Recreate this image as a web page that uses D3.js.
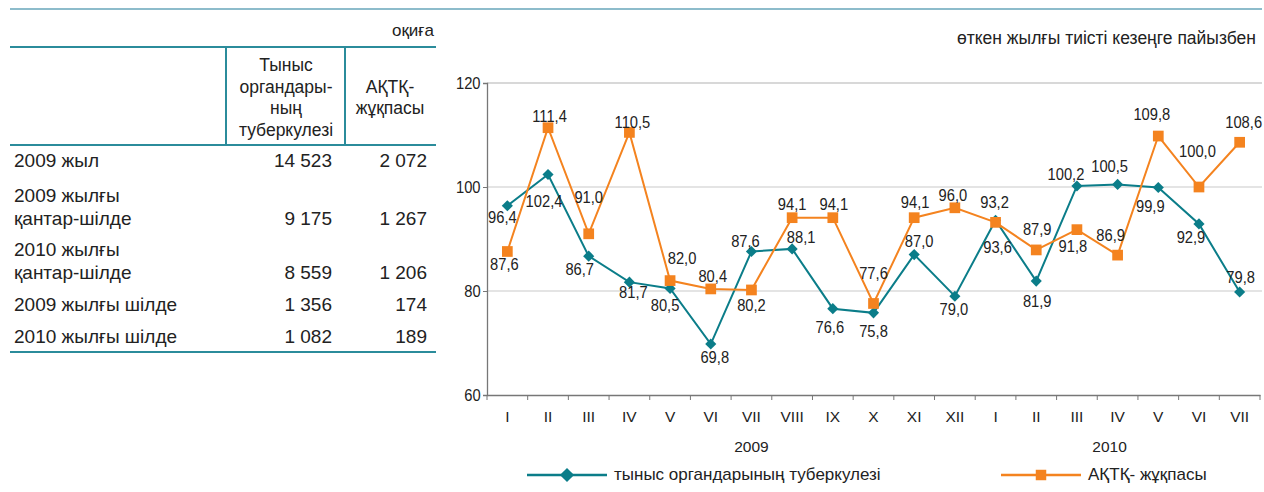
<!DOCTYPE html>
<html>
<head>
<meta charset="utf-8">
<script src="https://cdn.jsdelivr.net/npm/d3@7"></script>
<style>
  body { margin: 0; background: #fff; }
  svg { display: block; font-family: "Liberation Sans", Arial, sans-serif; }
</style>
</head>
<body>
<div id="wrapper"></div>
<script>
// data
const months = ["I","II","III","IV","V","VI","VII","VIII","IX","X","XI","XII","I","II","III","IV","V","VI","VII"]
const years = ["2009", "2010"]
const tbValues = [96.4, 102.4, 86.7, 81.7, 80.5, 69.8, 87.6, 88.1, 76.6, 75.8, 87.0, 79.0, 93.6, 81.9, 100.2, 100.5, 99.9, 92.9, 79.8]
const hivValues = [87.6, 111.4, 91.0, 110.5, 82.0, 80.4, 80.2, 94.1, 94.1, 77.6, 94.1, 96.0, 93.2, 87.9, 91.8, 86.9, 109.8, 100.0, 108.6]
const yTicks = [60, 80, 100, 120]
const seriesNames = ["тыныс органдарының туберкулезі", "АҚТҚ- жұқпасы"]

const tableRows = [["2009 жыл"], ["2009 жылғы", "қантар-шілде"], ["2010 жылғы", "қантар-шілде"], ["2009 жылғы шілде"], ["2010 жылғы шілде"]]
const tableTb = ["14 523", "9 175", "8 559", "1 356", "1 082"]
const tableHiv = ["2 072", "1 267", "1 206", "174", "189"]
const tableHead = [["Тыныс", "органдары-", "ның", "туберкулезі"], ["АҚТҚ-", "жұқпасы"]]

const teal = "#0b7d89"
const orange = "#f4831f"
const lineTeal = "#2b8c9b"
const ink = "#222"

const svg = d3.select("#wrapper").append("svg")
  .attr("width", 1264).attr("height", 492)

// top rule
svg.append("line").attr("x1", 10).attr("x2", 1262).attr("y1", 9).attr("y2", 9)
  .attr("stroke", "#8dbccb").attr("stroke-width", 2)

// ---- table ----
const tbl = svg.append("g")
tbl.append("text").attr("x", 434).attr("y", 36).attr("text-anchor", "end")
  .attr("font-size", 17).attr("fill", ink).text("оқиға")

const hLine = (y) => tbl.append("line").attr("x1", 10).attr("x2", 436).attr("y1", y).attr("y2", y)
  .attr("stroke", lineTeal).attr("stroke-width", 2)
hLine(47); hLine(145); hLine(352)
;[226, 345].forEach(x => tbl.append("line").attr("x1", x).attr("x2", x).attr("y1", 47).attr("y2", 145)
  .attr("stroke", lineTeal).attr("stroke-width", 2))

tableHead[0].forEach((t, i) => tbl.append("text").attr("x", 286).attr("y", 71 + i * 21.5)
  .attr("text-anchor", "middle").attr("font-size", 17.5).attr("fill", ink).text(t))
tableHead[1].forEach((t, i) => tbl.append("text").attr("x", 390).attr("y", 92.5 + i * 21.5)
  .attr("text-anchor", "middle").attr("font-size", 17.5).attr("fill", ink).text(t))

const rowBase = [166.5, 224.5, 278.5, 310.5, 342.5]
tableRows.forEach((lines, r) => {
  lines.forEach((t, j) => tbl.append("text").attr("x", 14)
    .attr("y", rowBase[r] - (lines.length - 1 - j) * 23)
    .attr("font-size", 19).attr("fill", ink).text(t))
  tbl.append("text").attr("x", 332).attr("y", rowBase[r]).attr("text-anchor", "end")
    .attr("font-size", 19).attr("fill", ink).text(tableTb[r])
  tbl.append("text").attr("x", 427).attr("y", rowBase[r]).attr("text-anchor", "end")
    .attr("font-size", 19).attr("fill", ink).text(tableHiv[r])
})

// ---- chart ----
svg.append("text").attr("x", 1256).attr("y", 44).attr("text-anchor", "end")
  .attr("font-size", 17.5).attr("fill", ink).text("өткен жылғы тиісті кезеңге пайызбен")

const plotLeft = 487, plotRight = 1260, plotTop = 83, plotBottom = 395
const idx = months.map((d, i) => i)
const xScale = d3.scaleBand().domain(idx).range([plotLeft, plotRight])
const xc = i => xScale(i) + xScale.bandwidth() / 2
const yScale = d3.scaleLinear().domain([60, 120]).range([plotBottom, plotTop])
const narrow = "scale(0.92,1)"

// gridlines
svg.append("g").selectAll("line").data(yTicks.slice(1)).join("line")
  .attr("x1", plotLeft).attr("x2", 1262)
  .attr("y1", d => yScale(d)).attr("y2", d => yScale(d))
  .attr("stroke", d => d === 120 ? "#d8d8d8" : "#c9c9c9").attr("stroke-width", d => d === 120 ? 2 : 1.2)

// y axis
const yAxis = svg.append("g").attr("transform", `translate(${plotLeft},0)`)
  .call(d3.axisLeft(yScale).tickValues(yTicks).tickSize(4).tickPadding(3))
yAxis.select(".domain").attr("stroke", "#777").attr("stroke-width", 1.3)
yAxis.selectAll(".tick line").attr("stroke", "#777")
yAxis.selectAll("text").attr("font-size", 16).attr("fill", ink)
  .attr("font-family", "Liberation Sans, Arial, sans-serif").attr("transform", narrow)

// x axis
const xAxis = svg.append("g").attr("transform", `translate(0,${plotBottom})`)
  .call(d3.axisBottom(xScale).tickFormat(i => months[i]).tickSize(0).tickPadding(16))
xAxis.select(".domain").attr("stroke", "#777").attr("stroke-width", 1.3)
xAxis.selectAll("text").attr("font-size", 15.5).attr("fill", ink)
  .attr("font-family", "Liberation Sans, Arial, sans-serif")
svg.append("g").selectAll("line").data(d3.range(months.length + 1)).join("line")
  .attr("x1", i => plotLeft + i * xScale.step()).attr("x2", i => plotLeft + i * xScale.step())
  .attr("y1", plotBottom).attr("y2", plotBottom + 5).attr("stroke", "#777")

// year labels (under VII 2009 and IV 2010)
svg.append("text").attr("x", xc(6)).attr("y", 452).attr("text-anchor", "middle")
  .attr("font-size", 15.5).attr("fill", ink).text(years[0])
svg.append("text").attr("x", xc(15) - 8).attr("y", 452).attr("text-anchor", "middle")
  .attr("font-size", 15.5).attr("fill", ink).text(years[1])

const line = d3.line().x((d, i) => xc(i)).y(d => yScale(d))
const fmt = v => d3.format(".1f")(v).replace(".", ",")

// label offsets relative to each marker (layout only)
const tbLabelOff = [[-5,12],[-4,26.5],[-9,13],[4,10],[-5,16.5],[4,13],[-6,-10.5],[9,-12],[-3,19],[0,18],[5,-13],[-1,13],[2,27],[1,20],[-11,-12],[-8,-18],[-8,18.5],[-8,13],[1,-15]]
const hivLabelOff = [[-3,12.5],[1.5,-11.7],[0,-37],[3,-10],[12,-22],[2,-13],[0,15],[0,-13.5],[1,-13.5],[0,-30.5],[1,-15.7],[-2,-13],[-1,-20],[1,-21],[-4,17],[-7,-20],[-6.5,-21.5],[-1.5,-36],[4,-20]]

function drawSeries(values, color, size, diamond, offs) {
  svg.append("path").datum(values).attr("d", line)
    .attr("fill", "none").attr("stroke", color).attr("stroke-width", 2)
  svg.append("g").selectAll("path").data(values).join("path")
    .attr("d", d3.symbol().type(d3.symbolSquare).size(size))
    .attr("transform", (d, i) => `translate(${xc(i)},${yScale(d)})${diamond ? " rotate(45)" : ""}`)
    .attr("fill", color)
  svg.append("g").selectAll("text").data(values).join("text")
    .attr("transform", (d, i) => `translate(${xc(i) + offs[i][0]},${yScale(d) + offs[i][1]}) ${narrow}`)
    .attr("dy", "0.36em")
    .attr("text-anchor", "middle").attr("font-size", 16).attr("fill", ink)
    .text(fmt)
}
drawSeries(tbValues, teal, 62, true, tbLabelOff)
drawSeries(hivValues, orange, 115, false, hivLabelOff)

// legend
const lg = svg.append("g")
const legendItems = [
  { x: 527, color: teal, name: seriesNames[0], diamond: true },
  { x: 1001, color: orange, name: seriesNames[1], diamond: false }
]
legendItems.forEach(it => {
  lg.append("line").attr("x1", it.x).attr("x2", it.x + 80).attr("y1", 475).attr("y2", 475)
    .attr("stroke", it.color).attr("stroke-width", 2.5)
  lg.append("path").attr("d", d3.symbol().type(d3.symbolSquare).size(it.diamond ? 100 : 110))
    .attr("transform", `translate(${it.x + 40},475)${it.diamond ? " rotate(45)" : ""}`)
    .attr("fill", it.color)
  lg.append("text").attr("x", it.x + 87).attr("y", 480).attr("font-size", 17)
    .attr("fill", ink).text(it.name)
})
</script>
</body>
</html>
